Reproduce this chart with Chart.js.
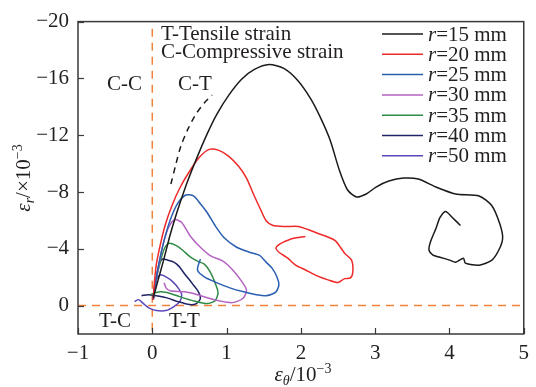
<!DOCTYPE html>
<html><head><meta charset="utf-8">
<script src="https://cdn.jsdelivr.net/npm/chart.js@4/dist/chart.umd.min.js"></script>
<style>html,body{margin:0;padding:0;background:#fff;}</style>
</head><body>
<canvas id="c" width="536" height="387"></canvas>
<script>
const xTicks = [-1, 0, 1, 2, 3, 4, 5];
const yTicks = [-20, -16, -12, -8, -4, 0];
const seriesNames = ['15', '20', '25', '30', '35', '40', '50'];
const seriesColors = ['#1a1a1a', '#ee2a2a', '#2a5fb0', '#b463c2', '#2e8b45', '#1f2466', '#5a48b8'];

const r15 = [[0.013,-0.56],[0.079,-1.81],[0.145,-3.06],[0.238,-4.94],[0.317,-6.33],[0.383,-7.38],[0.476,-8.77],[0.608,-10.51],[0.740,-12.11],[0.872,-13.50],[1.030,-14.82],[1.202,-15.94],[1.374,-16.63],[1.572,-16.98],[1.770,-16.70],[1.955,-15.87],[2.127,-14.61],[2.259,-13.29],[2.391,-11.69],[2.523,-9.46],[2.629,-8.14],[2.748,-7.65],[2.880,-7.86],[3.012,-8.35],[3.184,-8.77],[3.382,-8.98],[3.580,-8.91],[3.818,-8.35],[4.082,-7.86],[4.399,-7.72],[4.571,-7.03],[4.676,-5.78],[4.716,-4.80],[4.676,-4.04],[4.571,-3.20],[4.399,-2.85],[4.214,-2.99],[4.188,-3.34],[4.082,-3.06],[4.003,-3.20],[3.871,-3.41],[3.778,-3.55],[3.725,-3.90],[3.738,-4.38],[3.778,-4.94],[3.818,-5.43],[3.871,-6.19],[3.937,-6.61],[3.976,-6.54],[4.042,-6.19],[4.148,-5.64]];
const r15Dashed = [[0.251,-8.56],[0.317,-9.95],[0.383,-11.20],[0.476,-12.39],[0.581,-13.43],[0.700,-14.27],[0.806,-14.82]];
const r20 = [[0.013,-0.42],[0.026,-1.46],[0.053,-2.85],[0.106,-4.24],[0.172,-5.64],[0.264,-7.03],[0.370,-8.28],[0.502,-9.46],[0.634,-10.44],[0.766,-11.00],[0.898,-10.93],[1.030,-10.51],[1.162,-9.81],[1.268,-8.98],[1.361,-7.86],[1.453,-6.82],[1.532,-5.98],[1.625,-5.64],[1.797,-5.57],[1.968,-5.57],[2.232,-5.08],[2.457,-4.59],[2.589,-3.69],[2.682,-3.20],[2.700,-2.40],[2.668,-1.95],[2.589,-1.90],[2.497,-1.62],[2.365,-1.81],[2.219,-2.09],[2.061,-2.51],[1.929,-2.85],[1.823,-3.34],[1.704,-3.76],[1.664,-4.04],[1.691,-4.24],[1.757,-4.45],[1.889,-4.73],[2.061,-4.87]];
const r25 = [[0.013,-0.42],[0.040,-1.46],[0.092,-3.06],[0.159,-4.59],[0.238,-5.98],[0.330,-7.10],[0.449,-7.79],[0.555,-7.72],[0.647,-7.17],[0.740,-6.54],[0.845,-5.64],[0.964,-4.80],[1.136,-4.11],[1.308,-3.76],[1.440,-3.55],[1.532,-3.06],[1.612,-2.64],[1.678,-2.02],[1.704,-1.46],[1.664,-0.97],[1.532,-0.70],[1.400,-0.77],[1.229,-0.97],[1.044,-1.25],[0.872,-1.60],[0.700,-2.02],[0.608,-2.51],[0.647,-3.27]];
const r30 = [[0.013,-0.42],[0.053,-1.81],[0.106,-3.34],[0.159,-4.59],[0.225,-5.57],[0.304,-6.05],[0.396,-5.85],[0.515,-4.87],[0.661,-4.04],[0.793,-3.48],[0.951,-3.13],[1.083,-2.51],[1.189,-1.81],[1.268,-1.11],[1.229,-0.56],[1.136,-0.28],[1.044,-0.21],[0.832,-0.42],[0.608,-0.77],[0.436,-0.97],[0.238,-1.04],[0.185,-1.25],[0.159,-1.60]];
const r35 = [[0.013,-0.42],[0.053,-1.81],[0.106,-3.06],[0.159,-3.97],[0.225,-4.38],[0.317,-4.24],[0.410,-3.90],[0.515,-3.41],[0.608,-3.13],[0.700,-2.92],[0.779,-2.37],[0.845,-1.60],[0.885,-0.90],[0.845,-0.35],[0.740,-0.14],[0.542,-0.35],[0.370,-0.63],[0.251,-0.84],[0.119,-0.97],[0.040,-0.90],[-0.026,-0.77]];
const r40 = [[0.013,-0.42],[0.040,-1.46],[0.079,-2.64],[0.132,-3.27],[0.211,-3.20],[0.291,-3.06],[0.357,-2.78],[0.436,-2.23],[0.542,-1.53],[0.621,-0.97],[0.647,-0.49],[0.594,-0.14],[0.502,-0.07],[0.343,-0.28],[0.185,-0.56],[0.053,-0.70],[-0.053,-0.77],[-0.145,-0.70]];
const r50 = [[0.013,-0.42],[0.026,-1.25],[0.053,-1.81],[0.106,-2.16],[0.185,-2.02],[0.277,-1.67],[0.357,-1.18],[0.396,-0.77],[0.370,-0.28],[0.291,0.07],[0.185,0.35],[0.053,0.35],[-0.053,0.14],[-0.119,-0.14],[-0.185,-0.42],[-0.238,-0.28]];
const zeroVertical = [[0, -19.5], [0, 2]];
const zeroHorizontal = [[-1, 0], [5, 0]];

const FONT = '"Liberation Serif", "Times New Roman", serif';
const FS = 21;
const TXT = '#231f20';
const ORANGE = '#f0823a';

const toPts = a => a.map(p => ({x: p[0], y: p[1]}));
const allSeries = [r15, r20, r25, r30, r35, r40, r50];

const datasets = [];
allSeries.forEach((s, i) => {
  datasets.push({data: toPts(s), borderColor: seriesColors[i], borderWidth: 1.5, showLine: true, pointRadius: 0, tension: 0.25, fill: false, order: i + 1});
});
datasets.push({data: toPts(r15Dashed), borderColor: '#1a1a1a', borderWidth: 1.5, borderDash: [6, 5], showLine: true, pointRadius: 0, tension: 0.3, fill: false, order: 8});
datasets.push({data: toPts(zeroVertical), borderColor: ORANGE, borderWidth: 1.5, borderDash: [8, 6], showLine: true, pointRadius: 0, fill: false, order: 20});
datasets.push({data: toPts(zeroHorizontal), borderColor: ORANGE, borderWidth: 1.5, borderDash: [8, 6], showLine: true, pointRadius: 0, fill: false, order: 20});

const minus = v => String(v).replace('-', '\u2212');

function drawSegments(ctx, segs, cx, baseline) {
  let w = 0;
  segs.forEach(s => { ctx.font = s.f; w += ctx.measureText(s.t).width; });
  let x = cx - w / 2;
  segs.forEach(s => { ctx.font = s.f; ctx.fillText(s.t, x, baseline + (s.dy || 0)); x += ctx.measureText(s.t).width; });
}

const decor = {
  id: 'decor',
  afterDraw(chart) {
    const ctx = chart.ctx, a = chart.chartArea;
    const xs = chart.scales.x, ys = chart.scales.y;
    ctx.save();
    ctx.strokeStyle = '#3a3a3a'; ctx.lineWidth = 1.5;
    ctx.strokeRect(a.left, a.top, a.right - a.left, a.bottom - a.top);
    ctx.lineWidth = 1.2;
    xTicks.forEach(v => { const px = Math.round(xs.getPixelForValue(v)) + 0.5; ctx.beginPath(); ctx.moveTo(px, a.bottom); ctx.lineTo(px, a.bottom - 6); ctx.stroke(); });
    yTicks.forEach(v => { const py = Math.round(ys.getPixelForValue(v)) + 0.5; ctx.beginPath(); ctx.moveTo(a.left, py); ctx.lineTo(a.left + 6, py); ctx.stroke(); });
    ctx.fillStyle = TXT; ctx.textBaseline = 'alphabetic'; ctx.textAlign = 'left';
    ctx.font = FS + 'px ' + FONT;
    ctx.fillText('T-Tensile strain', 161, 40);
    ctx.fillText('C-Compressive strain', 161, 58);
    ctx.fillText('C-C', 107, 90);
    ctx.fillText('C-T', 178, 90);
    ctx.fillText('T-C', 99, 327);
    ctx.fillText('T-T', 169, 327);
    seriesNames.forEach((n, i) => {
      const y = 34 + 20.3 * i;
      ctx.strokeStyle = seriesColors[i]; ctx.lineWidth = 1.5;
      ctx.beginPath(); ctx.moveTo(382, y); ctx.lineTo(423, y); ctx.stroke();
      ctx.textBaseline = 'middle';
      ctx.font = 'italic ' + FS + 'px ' + FONT;
      ctx.fillText('r', 428, y + 1);
      const w = ctx.measureText('r').width;
      ctx.font = FS + 'px ' + FONT;
      ctx.fillText('=' + n + ' mm', 428 + w, y + 1);
    });
    ctx.textBaseline = 'alphabetic';
    drawSegments(ctx, [
      {t: '\u03b5', f: 'italic ' + FS + 'px ' + FONT},
      {t: '\u03b8', f: 'italic 14px ' + FONT, dy: 4},
      {t: '/10', f: FS + 'px ' + FONT},
      {t: '\u22123', f: '14px ' + FONT, dy: -8}
    ], 303, 381);
    ctx.translate(30, 178); ctx.rotate(-Math.PI / 2);
    drawSegments(ctx, [
      {t: '\u03b5', f: 'italic ' + FS + 'px ' + FONT},
      {t: 'r', f: 'italic 14px ' + FONT, dy: 4},
      {t: '/\u00d710', f: FS + 'px ' + FONT},
      {t: '\u22123', f: '14px ' + FONT, dy: -8}
    ], 0, 0);
    ctx.restore();
  }
};

new Chart(document.getElementById('c'), {
  type: 'scatter',
  data: {datasets},
  options: {
    responsive: false, animation: false, devicePixelRatio: 1,
    layout: {padding: {top: 18, right: 5, left: 0, bottom: 0}},
    plugins: {legend: {display: false}, tooltip: {enabled: false}},
    scales: {
      x: {
        type: 'linear', min: -1, max: 5,
        afterBuildTicks: s => { s.ticks = xTicks.map(v => ({value: v})); },
        afterFit: s => { s.height = 53; },
        grid: {display: false, drawTicks: false},
        border: {display: false},
        ticks: {font: {family: FONT, size: FS}, color: TXT, padding: 7, maxRotation: 0, callback: v => minus(v)}
      },
      y: {
        type: 'linear', min: -20, max: 2, reverse: true,
        afterBuildTicks: s => { s.ticks = yTicks.map(v => ({value: v})); },
        afterFit: s => { s.width = 78; },
        grid: {display: false, drawTicks: false},
        border: {display: false},
        ticks: {font: {family: FONT, size: FS}, color: TXT, padding: 9, callback: v => minus(v)}
      }
    }
  },
  plugins: [decor]
});
</script>
</body></html>
